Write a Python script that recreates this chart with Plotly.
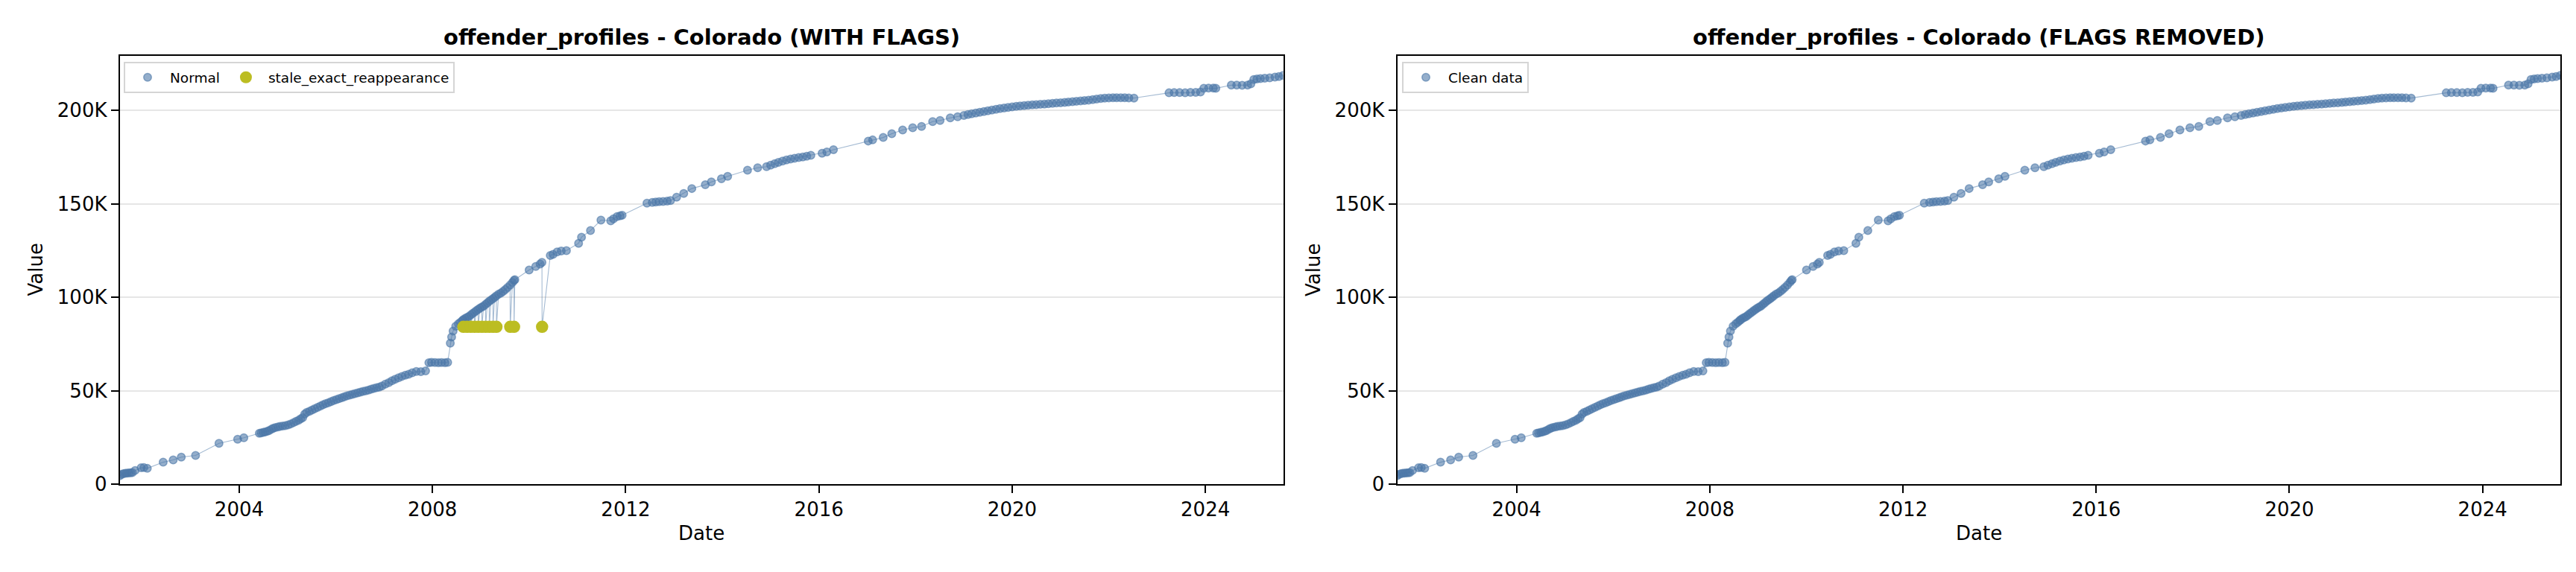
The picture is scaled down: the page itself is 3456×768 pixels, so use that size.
import plotly.graph_objects as go

# ---------------- data ----------------
normal_dates = [
    "2001-07-12", "2001-07-25", "2001-08-08", "2001-08-22", "2001-09-05", "2001-09-19", "2001-10-03", "2001-10-15",
    "2001-11-05", "2001-12-20", "2002-01-10", "2002-02-05", "2002-06-05", "2002-08-20", "2002-10-20", "2003-02-05",
    "2003-08-01", "2003-12-20", "2004-02-05", "2004-06-01", "2004-06-15", "2004-07-01", "2004-07-15", "2004-08-01",
    "2004-08-15", "2004-09-01", "2004-09-15", "2004-10-01", "2004-10-20", "2004-11-05", "2004-11-25", "2004-12-15",
    "2005-01-05", "2005-01-25", "2005-02-15", "2005-03-05", "2005-03-25", "2005-04-10", "2005-04-25", "2005-05-10",
    "2005-05-25", "2005-06-15", "2005-07-05", "2005-07-25", "2005-08-15", "2005-09-05", "2005-09-25", "2005-10-15",
    "2005-11-05", "2005-11-25", "2005-12-15", "2006-01-05", "2006-01-25", "2006-02-15", "2006-03-05", "2006-03-25",
    "2006-04-15", "2006-05-05", "2006-05-25", "2006-06-15", "2006-07-05", "2006-07-25", "2006-08-15", "2006-09-05",
    "2006-09-25", "2006-10-15", "2006-11-05", "2006-11-25", "2006-12-15", "2007-01-10", "2007-02-05", "2007-03-01",
    "2007-03-25", "2007-04-20", "2007-05-15", "2007-06-10", "2007-07-05", "2007-08-01", "2007-09-01", "2007-10-05",
    "2007-11-10", "2007-12-05", "2007-12-25", "2008-01-20", "2008-02-15", "2008-03-10", "2008-04-05", "2008-04-25",
    "2008-05-15", "2008-05-25", "2008-06-05", "2008-06-25", "2008-07-15", "2008-07-30", "2008-08-14", "2008-08-21",
    "2008-09-04", "2008-09-18", "2008-10-02", "2008-10-16", "2008-10-30", "2008-11-13", "2008-11-27", "2008-12-11",
    "2008-12-25", "2009-01-08", "2009-01-22", "2009-02-05", "2009-02-19", "2009-03-05", "2009-03-19", "2009-04-02",
    "2009-04-15", "2009-04-28", "2009-05-15", "2009-06-01", "2009-06-18", "2009-07-05", "2009-07-22", "2009-08-10",
    "2009-08-28", "2009-09-08", "2009-09-15", "2010-01-01", "2010-02-20", "2010-03-25", "2010-04-08", "2010-06-10",
    "2010-07-01", "2010-08-01", "2010-09-01", "2010-10-10", "2011-01-10", "2011-02-01", "2011-04-10", "2011-06-28",
    "2011-09-10", "2011-10-01", "2011-10-28", "2011-11-20", "2011-12-05", "2012-06-10", "2012-07-20", "2012-08-15",
    "2012-09-10", "2012-10-10", "2012-11-10", "2012-12-05", "2013-01-20", "2013-03-15", "2013-05-15", "2013-08-25",
    "2013-10-10", "2013-12-25", "2014-02-10", "2014-07-10", "2014-09-25", "2014-12-01", "2015-01-01", "2015-02-01",
    "2015-03-01", "2015-04-01", "2015-05-01", "2015-06-01", "2015-07-01", "2015-08-01", "2015-09-01", "2015-10-01",
    "2015-11-01", "2016-01-25", "2016-03-01", "2016-04-20", "2017-01-08", "2017-02-10", "2017-05-01", "2017-07-05",
    "2017-09-25", "2017-12-10", "2018-02-15", "2018-05-10", "2018-07-05", "2018-09-20", "2018-11-15", "2019-01-01",
    "2019-02-01", "2019-03-01", "2019-04-01", "2019-05-01", "2019-06-01", "2019-07-01", "2019-08-01", "2019-09-01",
    "2019-10-01", "2019-11-01", "2019-12-01", "2020-01-01", "2020-02-01", "2020-03-01", "2020-04-01", "2020-05-01",
    "2020-06-01", "2020-07-01", "2020-08-01", "2020-09-01", "2020-10-01", "2020-11-01", "2020-12-01", "2021-01-01",
    "2021-02-01", "2021-03-01", "2021-04-01", "2021-05-01", "2021-06-01", "2021-07-01", "2021-08-01", "2021-09-01",
    "2021-10-01", "2021-11-01", "2021-12-01", "2022-01-01", "2022-02-01", "2022-03-01", "2022-04-01", "2022-05-01",
    "2022-06-01", "2022-07-10", "2023-04-01", "2023-05-10", "2023-06-20", "2023-08-01", "2023-09-10", "2023-10-20",
    "2023-11-25", "2023-12-20", "2024-01-25", "2024-03-01", "2024-03-20", "2024-07-15", "2024-08-25", "2024-10-05",
    "2024-11-15", "2024-12-10", "2025-01-01", "2025-01-25", "2025-02-20", "2025-03-25", "2025-05-01", "2025-06-10",
    "2025-07-10", "2025-08-11",
]
normal_values = [
    4600, 5300, 5700, 5900, 6000, 6100, 6200, 6300,
    7400, 8800, 8900, 8500, 11800, 13000, 14500, 15400,
    21900, 24100, 24900, 27300, 27500, 27800, 28000, 28400,
    28800, 29500, 30000, 30400, 30700, 31000, 31200, 31400,
    31800, 32300, 33000, 33600, 34200, 35000, 35600, 37500,
    38400, 39000, 39700, 40400, 41100, 41800, 42500, 43100,
    43600, 44200, 44800, 45300, 45800, 46300, 46800, 47300,
    47700, 48100, 48500, 48900, 49300, 49700, 50000, 50400,
    50900, 51300, 51700, 52000, 52600, 53600, 54400, 55400,
    56200, 57000, 57700, 58300, 58800, 59600, 60300, 60200,
    60600, 65000, 65200, 65100, 65000, 65100, 65000, 65200,
    75500, 78800, 82000, 84500, 85800, 86600, 87500, 88000,
    88700, 89200, 89700, 90500, 91300, 92000, 92800, 93500,
    94200, 94800, 95300, 96200, 97000, 97900, 98600, 99300,
    100000, 100800, 101700, 102300, 103200, 104200, 105300, 106600,
    108000, 109000, 109400, 114600, 116500, 117800, 118700, 122400,
    123000, 124300, 124800, 125000, 128900, 132200, 135700, 141300,
    140900, 142000, 143200, 143600, 143900, 150400, 150800, 151000,
    151200, 151300, 151500, 151800, 153600, 155600, 158200, 160200,
    161700, 163400, 164700, 168000, 169300, 169900, 170700, 171500,
    172200, 172900, 173500, 174000, 174400, 174800, 175100, 175500,
    176000, 177100, 177800, 179000, 183600, 184200, 185500, 187500,
    189500, 190700, 191400, 194000, 194600, 196000, 196600, 197300,
    197800, 198200, 198600, 199000, 199400, 199800, 200200, 200600,
    201000, 201300, 201600, 201900, 202200, 202400, 202600, 202800,
    203000, 203100, 203300, 203400, 203600, 203800, 204000, 204100,
    204300, 204500, 204700, 204900, 205100, 205300, 205500, 205800,
    206100, 206400, 206600, 206700, 206800, 206800, 206800, 206800,
    206700, 206600, 209400, 209500, 209500, 209400, 209600, 209600,
    209800, 211800, 211900, 211900, 211800, 213500, 213500, 213400,
    213500, 214200, 216500, 216800, 217000, 217200, 217400, 217800,
    218100, 218700,
]
flag_dates = [
    "2008-08-22", "2008-09-19", "2008-10-17", "2008-11-14", "2008-12-12", "2009-01-09", "2009-02-06",
    "2009-03-06", "2009-04-03", "2009-04-29", "2009-08-11", "2009-09-09", "2010-04-09",
]
flag_values = [84200] * len(flag_dates)

y_tickvals = [0, 50000, 100000, 150000, 200000]
y_ticktext = ["0", "50K", "100K", "150K", "200K"]
x_range = ["2001-07-12", "2025-08-11"]
y_range = [0, 229300]

titles = ["offender_profiles - Colorado (WITH FLAGS)", "offender_profiles - Colorado (FLAGS REMOVED)"]

# ---------------- styling ----------------
W, H = 3456, 768
BLUE_PT = "rgba(76,120,168,0.6)"
BLUE_LINE = "rgba(76,120,168,0.5)"
OLIVE = "#bcbd22"
FONT = "DejaVu Sans"

x1_dom = [152.7 / W, 1713.5 / W]
x2_dom = [1866.5 / W, 3427 / W]
y_dom = [1 - 655 / H, 1 - 68 / H]

all_pts = sorted(zip(normal_dates + flag_dates, normal_values + flag_values))
all_dates = [d for d, _ in all_pts]
all_vals = [v for _, v in all_pts]

fig = go.Figure()

# left panel
fig.add_trace(go.Scatter(x=all_dates, y=all_vals, mode="lines", line=dict(color=BLUE_LINE, width=1.1),
                         showlegend=False, hoverinfo="skip", xaxis="x", yaxis="y"))
fig.add_trace(go.Scatter(x=normal_dates, y=normal_values, mode="markers", name="Normal",
                         marker=dict(size=10.5, color=BLUE_PT, line=dict(color=BLUE_PT, width=1.5)),
                         xaxis="x", yaxis="y", legend="legend"))
fig.add_trace(go.Scatter(x=flag_dates, y=flag_values, mode="markers", name="stale_exact_reappearance",
                         marker=dict(size=16.5, color=OLIVE, line=dict(width=0)),
                         xaxis="x", yaxis="y", legend="legend"))

# right panel
fig.add_trace(go.Scatter(x=normal_dates, y=normal_values, mode="lines", line=dict(color=BLUE_LINE, width=1.1),
                         showlegend=False, hoverinfo="skip", xaxis="x2", yaxis="y2"))
fig.add_trace(go.Scatter(x=normal_dates, y=normal_values, mode="markers", name="Clean data",
                         marker=dict(size=10.5, color=BLUE_PT, line=dict(color=BLUE_PT, width=1.5)),
                         xaxis="x2", yaxis="y2", legend="legend2"))

xaxis_common = dict(
    type="date", range=x_range, tick0="2000-01-01", dtick="M48", tickformat="%Y",
    showgrid=False, zeroline=False, showline=True, linecolor="black", linewidth=2, mirror=True,
    ticks="outside", ticklen=10, tickwidth=2, tickcolor="black",
    tickfont=dict(family=FONT, size=26, color="black"),
)
yaxis_common = dict(
    range=y_range, tickvals=y_tickvals, ticktext=y_ticktext,
    showgrid=True, gridcolor="#e6e6e6", gridwidth=1.6, zeroline=False,
    showline=True, linecolor="black", linewidth=2, mirror=True,
    ticks="outside", ticklen=10, tickwidth=2, tickcolor="black",
    tickfont=dict(family=FONT, size=26, color="black"),
)

legend_common = dict(
    orientation="h", xanchor="left", yanchor="top", itemwidth=50,
    font=dict(family=FONT, size=18.5, color="black"),
    bgcolor="rgba(255,255,255,0.8)", bordercolor="#d5d5d5", borderwidth=2,
)

annotations = []
for dom, t in zip([x1_dom, x2_dom], titles):
    annotations.append(dict(text="<b>" + t + "</b>", x=(dom[0] + dom[1]) / 2, y=1 - 42.6 / H,
                            xref="paper", yref="paper", xanchor="center", yanchor="middle",
                            showarrow=False, font=dict(family=FONT, size=29, color="black")))
    annotations.append(dict(text="Date", x=(dom[0] + dom[1]) / 2, y=1 - 722 / H,
                            xref="paper", yref="paper", xanchor="center", yanchor="middle",
                            showarrow=False, font=dict(family=FONT, size=26, color="black")))
for xpx in [40, 1754.5]:
    annotations.append(dict(text="Value", x=xpx / W, y=(y_dom[0] + y_dom[1]) / 2,
                            xref="paper", yref="paper", xanchor="center", yanchor="middle",
                            textangle=-90, showarrow=False, font=dict(family=FONT, size=26, color="black")))

fig.update_layout(
    width=W, height=H, margin=dict(l=0, r=0, t=0, b=0),
    paper_bgcolor="white", plot_bgcolor="white",
    font=dict(family=FONT, color="black"),
    xaxis=dict(domain=x1_dom, anchor="y", **xaxis_common),
    yaxis=dict(domain=y_dom, anchor="x", **yaxis_common),
    xaxis2=dict(domain=x2_dom, anchor="y2", **xaxis_common),
    yaxis2=dict(domain=y_dom, anchor="x2", **yaxis_common),
    legend=dict(x=158 / W, y=1 - 76.7 / H, **legend_common),
    legend2=dict(x=1873 / W, y=1 - 76.7 / H, **legend_common),
    annotations=annotations,
    showlegend=True,
)

fig.write_html("out.html")
